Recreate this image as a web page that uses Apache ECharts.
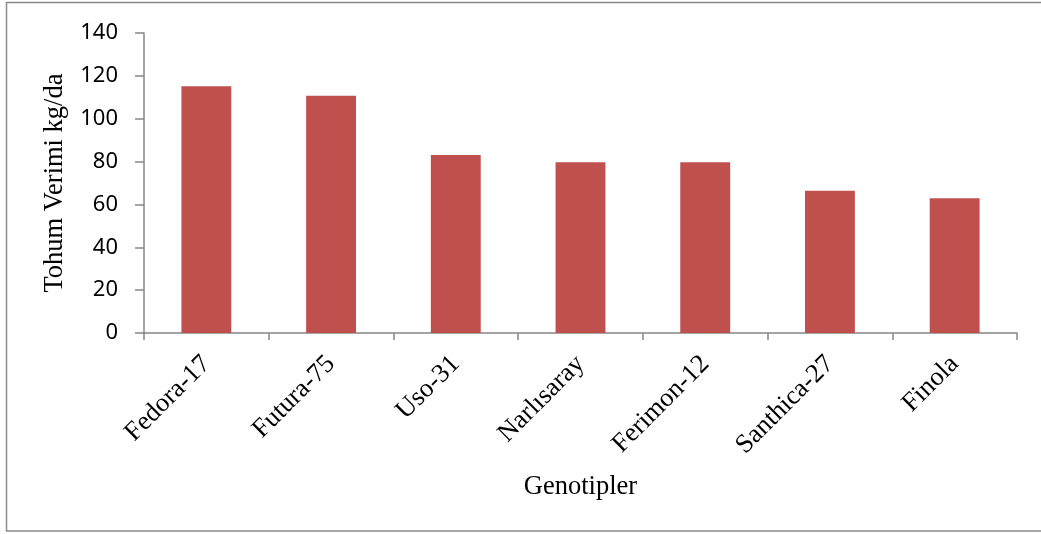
<!DOCTYPE html>
<html>
<head>
<meta charset="utf-8">
<script src="https://cdn.jsdelivr.net/npm/echarts@6/dist/echarts.min.js"></script>
<style>
html,body{margin:0;padding:0;background:#fff;}
#chart{width:1041px;height:534px;}
</style>
</head>
<body>
<div id="chart"></div>
<script>
const categories = ["Fedora-17", "Futura-75", "Uso-31", "Narlısaray", "Ferimon-12", "Santhica-27", "Finola"];
const yieldValues = [115.2, 110.7, 83.1, 79.7, 79.7, 66.4, 62.9];
const yAxisMin = 0;
const yAxisMax = 140;
const yAxisStep = 20;
const xTitle = "Genotipler";
const yTitle = "Tohum Verimi kg/da";

const chart = echarts.init(document.getElementById('chart'), null, {renderer: 'canvas'});
const axisColor = '#868686';
chart.setOption({
  animation: false,
  backgroundColor: '#ffffff',
  graphic: [{
    type: 'rect',
    shape: {x: 6.5, y: 2.5, width: 1060, height: 528.5},
    style: {fill: 'none', stroke: '#8a8a8a', lineWidth: 1.5},
    silent: true
  }],
  grid: {left: 144, right: 24, top: 33, bottom: 201, containLabel: false},
  xAxis: {
    type: 'category',
    data: categories,
    name: xTitle,
    nameLocation: 'middle',
    nameGap: 141,
    nameTextStyle: {fontFamily: 'Liberation Serif', fontSize: 26.5, color: '#000'},
    axisLine: {lineStyle: {color: axisColor, width: 1.5}},
    axisTick: {show: true, alignWithLabel: false, length: 7, lineStyle: {color: axisColor, width: 1.5}},
    axisLabel: {rotate: 45, margin: 27, fontFamily: 'Liberation Serif', fontSize: 26.5, color: '#000', interval: 0}
  },
  yAxis: {
    type: 'value',
    min: yAxisMin,
    max: yAxisMax,
    interval: yAxisStep,
    name: yTitle,
    nameLocation: 'middle',
    nameGap: 75,
    nameTextStyle: {fontFamily: 'Liberation Serif', fontSize: 26.5, color: '#000'},
    splitLine: {show: false},
    axisLine: {show: true, lineStyle: {color: axisColor, width: 1.5}},
    axisTick: {show: true, length: 9, lineStyle: {color: axisColor, width: 1.5}},
    axisLabel: {margin: 26, fontFamily: 'Noto Sans', fontSize: 22, color: '#000'}
  },
  series: [{
    type: 'bar',
    data: yieldValues,
    barWidth: '40%',
    itemStyle: {color: '#C0504D'}
  }]
});
</script>
</body>
</html>
